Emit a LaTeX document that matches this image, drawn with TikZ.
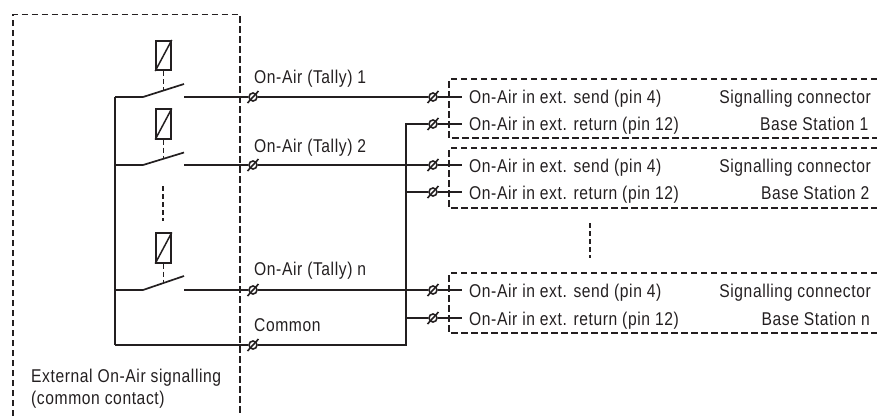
\documentclass[tikz,border=0pt]{standalone}
\usepackage{fontspec}
\setmainfont[FakeStretch=0.845,LetterSpace=3.2]{Liberation Sans}
\definecolor{ink}{HTML}{231F20}
\tikzset{
  wire/.style={draw=ink,line width=1.7pt},
  dashline/.style={draw=ink,line width=1.6pt,dash pattern=on 6.5pt off 3.5pt},
  linkline/.style={draw=ink,line width=1.6pt,dash pattern=on 5pt off 3pt},
  label/.style={inner sep=0pt,anchor=base west,text=ink,font=\fontsize{18.5pt}{21pt}\selectfont},
  rlabel/.style={inner sep=0pt,anchor=base east,text=ink,font=\fontsize{18.5pt}{21pt}\selectfont},
  terminal/.style={circle,draw=ink,line width=1.6pt,inner sep=0pt,minimum size=8pt,
    append after command={\pgfextra{\draw[ink,line width=1.6pt] (\tikzlastnode.center)+(-5.5pt,-6pt) -- +(5.5pt,6pt);}}},
  coil/.style={draw=ink,line width=1.6pt,inner sep=0pt,minimum width=15pt,minimum height=29.5pt},
}
\begin{document}
\begin{tikzpicture}[x=1pt,y=-1pt]
\useasboundingbox (0,0) rectangle (877,416);
% dashed boxes
\draw[dashline] (13,416) -- (13,14.5) -- (240,14.5) -- (240,416);
\draw[dashline] (877,79) -- (449,79) -- (449,138) -- (877,138);
\draw[dashline] (877,148) -- (449,148) -- (449,208) -- (877,208);
\draw[dashline] (877,273) -- (449,273) -- (449,333) -- (877,333);
% coils
\foreach \n/\y in {1/55.5,2/124,3/248}{
  \node[coil] (coil\n) at (163.5,\y) {};
  \draw[ink,line width=1.5pt] (coil\n.south west) -- (coil\n.north east);
}
% terminals left
\node[terminal] (tl1) at (253,97) {};
\node[terminal] (tl2) at (253,165) {};
\node[terminal] (tl3) at (253,290) {};
\node[terminal] (tlc) at (253,345) {};
% terminals right
\node[terminal] (ts1) at (433,97) {};
\node[terminal] (tr1) at (433,124) {};
\node[terminal] (ts2) at (433,165) {};
\node[terminal] (tr2) at (433,192) {};
\node[terminal] (ts3) at (433,290) {};
\node[terminal] (tr3) at (433,318) {};
% contact coordinates
\coordinate (b1) at (115,97);
\coordinate (b2) at (115,165);
\coordinate (b3) at (115,290);
\coordinate (bc) at (115,345);
\coordinate (p1) at (143,97);
\coordinate (p2) at (143,165);
\coordinate (p3) at (143,290);
\coordinate (a1) at (184,84);
\coordinate (a2) at (184,152.5);
\coordinate (a3) at (184,276);
\coordinate (f1) at (184,97);
\coordinate (f2) at (184,165);
\coordinate (f3) at (184,290);
\coordinate (m1) at (163.5,90.5);
\coordinate (m2) at (163.5,158.5);
\coordinate (m3) at (163.5,283);
\coordinate (d1) at (163,186);
\coordinate (d2) at (163,221);
\coordinate (v1) at (590,223);
\coordinate (v2) at (590,258);
\coordinate (rb) at (406,124);
\coordinate (rb2) at (406,192);
\coordinate (rb3) at (406,318);
\coordinate (rbc) at (406,345);
% switches
\draw[wire] (b1) -- (bc);
\draw[wire] (b1) -- (p1) -- (a1);
\draw[wire] (b2) -- (p2) -- (a2);
\draw[wire] (b3) -- (p3) -- (a3);
\draw[wire] (f1) -- (tl1);
\draw[wire] (f2) -- (tl2);
\draw[wire] (f3) -- (tl3);
\draw[wire] (bc) -- (tlc);
\draw[wire] (tl1) -- (ts1);
\draw[wire] (tl2) -- (ts2);
\draw[wire] (tl3) -- (ts3);
\draw[wire] (tlc) -- (rbc) -- (rb) -- (tr1);
\draw[wire] (rb2) -- (tr2);
\draw[wire] (rb3) -- (tr3);
% stubs
\foreach \t/\y in {ts1/97,tr1/124,ts2/165,tr2/192,ts3/290,tr3/318}{
  \coordinate (e\t) at (462,\y);
  \draw[wire] (\t) -- (e\t);
}
% mechanical links
\draw[linkline] (coil1) -- (m1);
\draw[linkline] (coil2) -- (m2);
\draw[linkline] (coil3) -- (m3);
\draw[linkline] (d1) -- (d2);
\draw[linkline] (v1) -- (v2);
% labels
\node[label] (l1) at (254,83.5) {On-Air (Tally) 1};
\node[label] (l2) at (254,152) {On-Air (Tally) 2};
\node[label] (l3) at (254,275) {On-Air (Tally) n};
\node[label] (l4) at (254,331) {Common};
\node[label] (ext1) at (31,382) {External On-Air signalling};
\node[label] (ext2) at (31,404.5) {(common contact)};
\node[label] (s1) at (469,103.5) {On-Air in ext. send (pin 4)};
\node[label] (r1) at (469,130.5) {On-Air in ext. return (pin 12)};
\node[label] (s2) at (469,172) {On-Air in ext. send (pin 4)};
\node[label] (r2) at (469,199) {On-Air in ext. return (pin 12)};
\node[label] (s3) at (469,297.5) {On-Air in ext. send (pin 4)};
\node[label] (r3) at (469,325) {On-Air in ext. return (pin 12)};
\node[rlabel] (c1) at (871,103.5) {Signalling connector};
\node[rlabel] (bs1) at (868.5,130.5) {Base Station 1};
\node[rlabel] (c2) at (871,172) {Signalling connector};
\node[rlabel] (bs2) at (869.5,199) {Base Station 2};
\node[rlabel] (c3) at (871,297.5) {Signalling connector};
\node[rlabel] (bs3) at (870,325) {Base Station n};
\end{tikzpicture}
\end{document}
